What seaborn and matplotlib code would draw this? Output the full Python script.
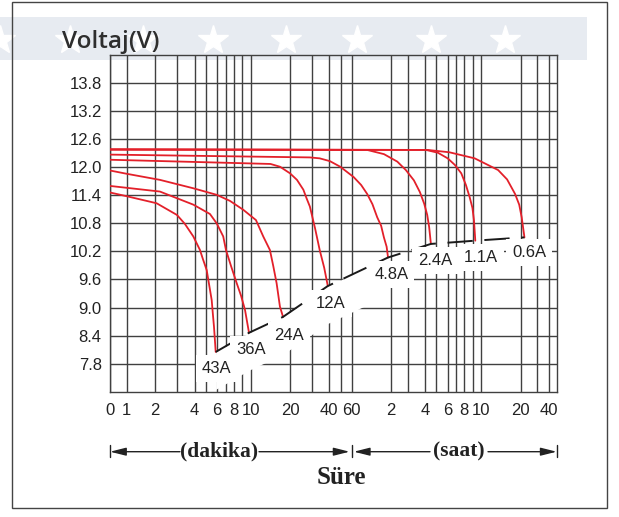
import numpy as np
import pandas as pd
import matplotlib
matplotlib.use("Agg")
import matplotlib.pyplot as plt
import seaborn as sns
from matplotlib.patches import Rectangle, ArrowStyle
from matplotlib.lines import Line2D
from matplotlib.transforms import blended_transform_factory

# ---------------- data ----------------
# hand-drawn time axis: anchor times (minutes) and their columns on the chart
axis_minutes = [0, 1, 2, 3, 4, 5, 6, 7, 8, 9, 10, 20, 30, 40, 50, 60, 120, 180, 240, 300,
                360, 420, 480, 540, 600, 1200, 1800, 2400, 3000]
axis_columns = [110, 126.7, 155, 177.3, 194.7, 206, 216.7, 225.7, 234.3, 242.3, 250.7, 290,
                312.3, 329.3, 340.7, 351.7, 391, 408, 425, 436, 447.7, 456, 464.3, 472.7,
                481, 520.7, 537.3, 548.7, 556.7]

tick_minutes = [0, 1, 2, 4, 6, 8, 10, 20, 40, 60, 120, 240, 360, 480, 600, 1200, 2400]
tick_labels = ["0", "1", "2", "4", "6", "8", "10", "20", "40", "60",
               "2", "4", "6", "8", "10", "20", "40"]
grid_minutes = [3, 5, 7, 9, 30, 50, 180, 300, 420, 540, 1800]
volt_ticks = [7.8, 8.4, 9.0, 9.6, 10.2, 10.8, 11.4, 12.0, 12.6, 13.2, 13.8]

currents = ["43A", "36A", "24A", "12A", "4.8A", "2.4A", "1.1A", "0.6A"]

t_43A = [0, 1, 2.06, 2.98, 3.4, 3.91, 4.44, 4.7, 5.06, 5.51, 5.63, 5.73, 5.90]
v_43A = [11.46, 11.38, 11.23, 10.98, 10.79, 10.52, 10.23, 10.04, 9.80, 9.16, 8.84, 8.59, 8.05]
t_36A = [0, 1, 2.19, 3.91, 5.35, 6, 6.71, 7.03, 7.6, 8.29, 8.84, 9.31, 9.79]
v_36A = [11.60, 11.56, 11.48, 11.20, 11.00, 10.80, 10.52, 10.23, 9.89, 9.52, 9.25, 8.95, 8.46]
t_24A = [0, 1, 2.19, 3.91, 6, 7.48, 9.11, 10.98, 12.49, 14.05, 14.9, 15.81, 16.76, 17.7]
v_24A = [11.93, 11.86, 11.73, 11.55, 11.41, 11.28, 11.09, 10.87, 10.52, 10.23, 9.89, 9.52,
         9.02, 8.80]
t_12A = [0, 4.44, 14.2, 16.8, 20, 22.7, 25.5, 27.0, 28.7, 31.4, 34.0, 36.7, 39.0]
v_12A = [12.16, 12.11, 12.07, 12.01, 11.87, 11.73, 11.52, 11.34, 11.16, 10.70, 10.23, 9.85,
         9.46]
t_4_8A = [0, 28.7, 34.0, 40.5, 49.6, 62.1, 70.9, 78.8, 86.5, 94.1, 100.8, 105.9, 111.1, 113.9]
v_4_8A = [12.27, 12.21, 12.19, 12.13, 12.01, 11.79, 11.62, 11.43, 11.21, 10.93, 10.75, 10.50,
          10.30, 10.07]
t_2_4A = [0, 78.8, 106, 139.5, 171, 198.9, 220, 236.8, 251, 261.1, 270.5]
v_2_4A = [12.38, 12.37, 12.28, 12.12, 11.94, 11.72, 11.47, 11.22, 10.98, 10.72, 10.36]
t_1_1A = [0, 244.9, 309, 360, 411, 457.3, 491, 517.5, 538, 548.9, 558.1]
v_1_1A = [12.38, 12.37, 12.31, 12.19, 12.05, 11.87, 11.62, 11.36, 11.13, 10.86, 10.43]
t_0_6A = [0, 252.9, 371, 553.9, 809, 946, 1087, 1169, 1229, 1315]
v_0_6A = [12.38, 12.37, 12.32, 12.19, 11.94, 11.74, 11.43, 11.20, 10.93, 10.50]

# end-of-discharge points
end_t = [5.90, 9.79, 17.7, 39.0, 113.9, 270.5, 558.1, 1315]
end_v = [8.05, 8.46, 8.80, 9.46, 10.07, 10.36, 10.43, 10.50]

# label anchor positions (time, volt)
label_t = [6.0, 10.0, 19.6, 41.4, 120.7, 294, 603, 1475]
label_v = [7.70, 8.11, 8.41, 9.09, 9.70, 10.01, 10.07, 10.18]

curve_t = [t_43A, t_36A, t_24A, t_12A, t_4_8A, t_2_4A, t_1_1A, t_0_6A]
curve_v = [v_43A, v_36A, v_24A, v_12A, v_4_8A, v_2_4A, v_1_1A, v_0_6A]
frames = []
for name, tt, vv in zip(currents, curve_t, curve_v):
    frames.append(pd.DataFrame({"t": tt, "v": vv, "akim": name}))
df = pd.concat(frames, ignore_index=True)

# ---------------- style ----------------
sns.set_style("white")
plt.rcParams["font.family"] = ["Liberation Sans", "DejaVu Sans"]

W, H = 619, 517
fig = plt.figure(figsize=(W / 100, H / 100), dpi=100)
fig.patch.set_facecolor("white")

def fx(px):
    return px / W

def fy(py):
    return 1 - py / H

# banner + stars + frame
fig.add_artist(Rectangle((0, fy(60)), fx(587), (60 - 17.3) / H, transform=fig.transFigure,
                         facecolor="#e7ebf1", edgecolor="none", zorder=-10))
star_x = [0, 70, 143, 213, 286, 357, 431, 505]
fig.add_artist(Line2D([fx(s) for s in star_x], [fy(40)] * len(star_x), transform=fig.transFigure,
                      marker="*", ms=22, ls="none", color="white", mec="white", zorder=-5))
fig.add_artist(Rectangle((fx(12.3), fy(508)), fx(607) - fx(12.3), (508 - 2) / H,
                         transform=fig.transFigure, fill=False, edgecolor="#444444",
                         lw=1, zorder=-1))

ax = fig.add_axes([fx(110), fy(391.7), fx(556.7) - fx(110), (391.7 - 55) / H])
ax.set_facecolor("none")

G = np.log10(np.array(axis_minutes, float) + 0.3)
P = np.array(axis_columns, float)

def fwd(t):
    t = np.clip(np.asarray(t, float), 0, None)
    return np.interp(np.log10(t + 0.3), G, P)

def inv(p):
    return 10 ** np.interp(np.asarray(p, float), P, G) - 0.3

ax.set_xscale("function", functions=(fwd, inv))
ax.set_xlim(0, 3000)
ax.set_ylim(7.2, 14.4)

ax.set_xticks(tick_minutes)
ax.set_xticklabels(tick_labels)
ax.set_xticks(grid_minutes, minor=True)
ax.set_yticks(volt_ticks)
ax.set_yticklabels([f"{v:.1f}" for v in volt_ticks])
ax.tick_params(axis="both", which="both", length=0, labelsize=12, colors="#222222")
ax.tick_params(axis="x", pad=8)
ax.tick_params(axis="y", pad=6)
ax.set_axisbelow(True)
ax.grid(True, which="both", color="#404040", lw=1.0)
for sp in ax.spines.values():
    sp.set_visible(True)
    sp.set_color("#404040")
    sp.set_linewidth(1.0)

# white mask below end-voltage line
ev = np.array(end_v)
ax.fill_between(end_t[:5], ev[:5] - 0.8, ev[:5], color="white", zorder=1, lw=0)

sns.lineplot(data=df, x="t", y="v", units="akim", estimator=None, sort=False,
             color="#e3202a", lw=1.3, ax=ax, zorder=3, legend=False)

ax.plot(end_t, end_v, color="#1a1a1a", lw=1.4, ls=(0, (13, 6)), zorder=4)

for name, lt, lv in zip(currents, label_t, label_v):
    ax.text(lt, lv, name, ha="center", va="center", fontsize=12, color="#222222", zorder=5,
            bbox=dict(boxstyle="square,pad=0.35", fc="white", ec="none"))

ax.set_xlabel("")
ax.set_ylabel("")

# title
fig.text(fx(62), fy(48), "Voltaj(V)", fontsize=17.5, family=["Open Sans", "DejaVu Sans"],
         weight="semibold", color="#2e2e2e", va="baseline", ha="left")

# bottom arrows
bt = blended_transform_factory(ax.transData, fig.transFigure)
yA = fy(451.7)
for t in [0, 60, 3000]:
    fig.add_artist(Line2D([t, t], [fy(445), fy(457)], transform=bt, color="#222222", lw=1))

def arrow(x_tail_px, t_head, shrink):
    ax.annotate("", xy=(t_head, yA), xycoords=bt, xytext=(fx(x_tail_px), yA),
                textcoords="figure fraction", annotation_clip=False,
                arrowprops=dict(arrowstyle=ArrowStyle("-|>", head_length=0.8, head_width=0.2),
                                mutation_scale=12, color="#222222", lw=1,
                                shrinkA=0, shrinkB=shrink))

arrow(180, 0, 0)
arrow(259, 60, 1.5)
arrow(430, 60, 1.5)
arrow(488, 3000, 0)

serif = ["Liberation Serif", "DejaVu Serif"]
fig.text(fx(219), yA, "(dakika)", ha="center", va="center", family=serif, weight="bold",
         fontsize=15.5, color="#222222")
fig.text(fx(459), yA, "(saat)", ha="center", va="center", family=serif, weight="bold",
         fontsize=15.5, color="#222222")
fig.text(fx(341.7), fy(478), "Süre", ha="center", va="center", family=serif, weight="bold",
         fontsize=18, color="#222222")

fig.savefig("out.png", dpi=100)
